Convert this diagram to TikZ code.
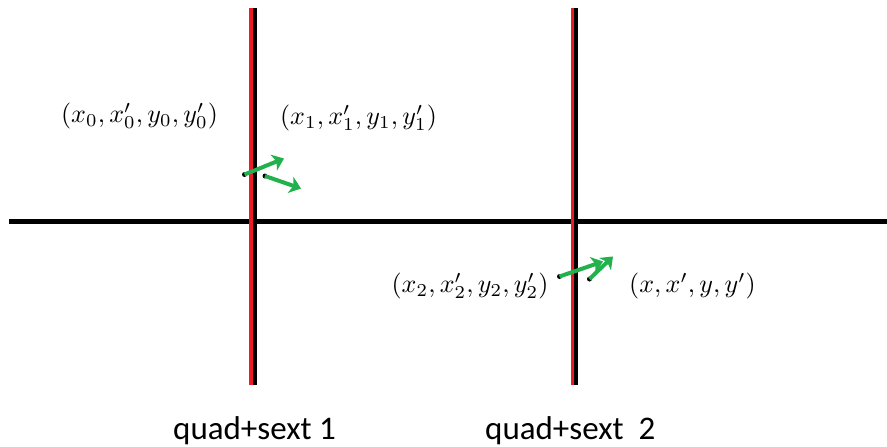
\documentclass[tikz,border=0pt]{standalone}
\usepackage{fontspec}
\newfontfamily\labfont{Carlito}
\usetikzlibrary{arrows.meta}
\definecolor{pgreen}{RGB}{34,177,76}
\definecolor{pred}{RGB}{237,28,36}
\newcommand{\mylabmath}[1]{\scalebox{2.6}{$#1$}}
\tikzset{
  mlabel/.style={inner sep=0pt},
  qlabel/.style={inner sep=0pt, anchor=base west, font=\labfont\fontsize{33}{38}\selectfont},
  garrow/.style={pgreen, line width=4pt, -{Stealth[length=11pt,width=17pt,inset=3pt]}},
  gdot/.style={circle, fill=black, inner sep=0pt, minimum size=5pt},
}
\begin{document}
\begin{tikzpicture}[x=1pt,y=-1pt]
\useasboundingbox[fill=white] (0,0) rectangle (887,447);
% horizontal axis
\coordinate (hl) at (9,221.5);
\coordinate (hr) at (887,221.5);
\draw[line width=5pt] (hl) -- (hr);
% vertical elements
\coordinate (v1t) at (251,8);
\coordinate (v1b) at (251,385);
\coordinate (v1tb) at (255.3,8);
\coordinate (v1bb) at (255.3,385);
\draw[pred, line width=4.2pt] (v1t) -- (v1b);
\draw[black, line width=3.7pt] (v1tb) -- (v1bb);
\coordinate (v2t) at (572.7,8);
\coordinate (v2b) at (572.7,385);
\coordinate (v2tb) at (576,8);
\coordinate (v2bb) at (576,385);
\draw[pred, line width=3.4pt] (v2t) -- (v2b);
\draw[black, line width=3.4pt] (v2tb) -- (v2bb);
% kicks at element 1
\node[gdot] (d1) at (244.5,174.5) {};
\node[gdot] (d2) at (265,176) {};
\coordinate (t1) at (284,158.5);
\coordinate (t2) at (301,188.5);
\draw[garrow] (d1.center) -- (t1);
\draw[garrow] (d2.center) -- (t2);
% kicks at element 2
\node[gdot] (d3) at (559.5,276.5) {};
\node[gdot] (d4) at (589.5,279) {};
\coordinate (t3) at (603,261.5);
\coordinate (t4) at (613,256.5);
\draw[garrow] (d3.center) -- (t3);
\draw[garrow] (d4.center) -- (t4);
% labels
\node[mlabel] (l0) at (139.5,116) {\mylabmath{(x_0,x'_0,y_0,y'_0)}};
\node[mlabel] (l1) at (358.5,118) {\mylabmath{(x_1,x'_1,y_1,y'_1)}};
\node[mlabel] (l2) at (470,286) {\mylabmath{(x_2,x'_2,y_2,y'_2)}};
\node[mlabel] (l3) at (692.5,286) {\mylabmath{(x,x',y,y')}};
\node[qlabel] (q1) at (173,439.5) {quad+sext 1};
\node[qlabel] (q2) at (485,439.5) {quad+sext\ \ 2};
\end{tikzpicture}
\end{document}
